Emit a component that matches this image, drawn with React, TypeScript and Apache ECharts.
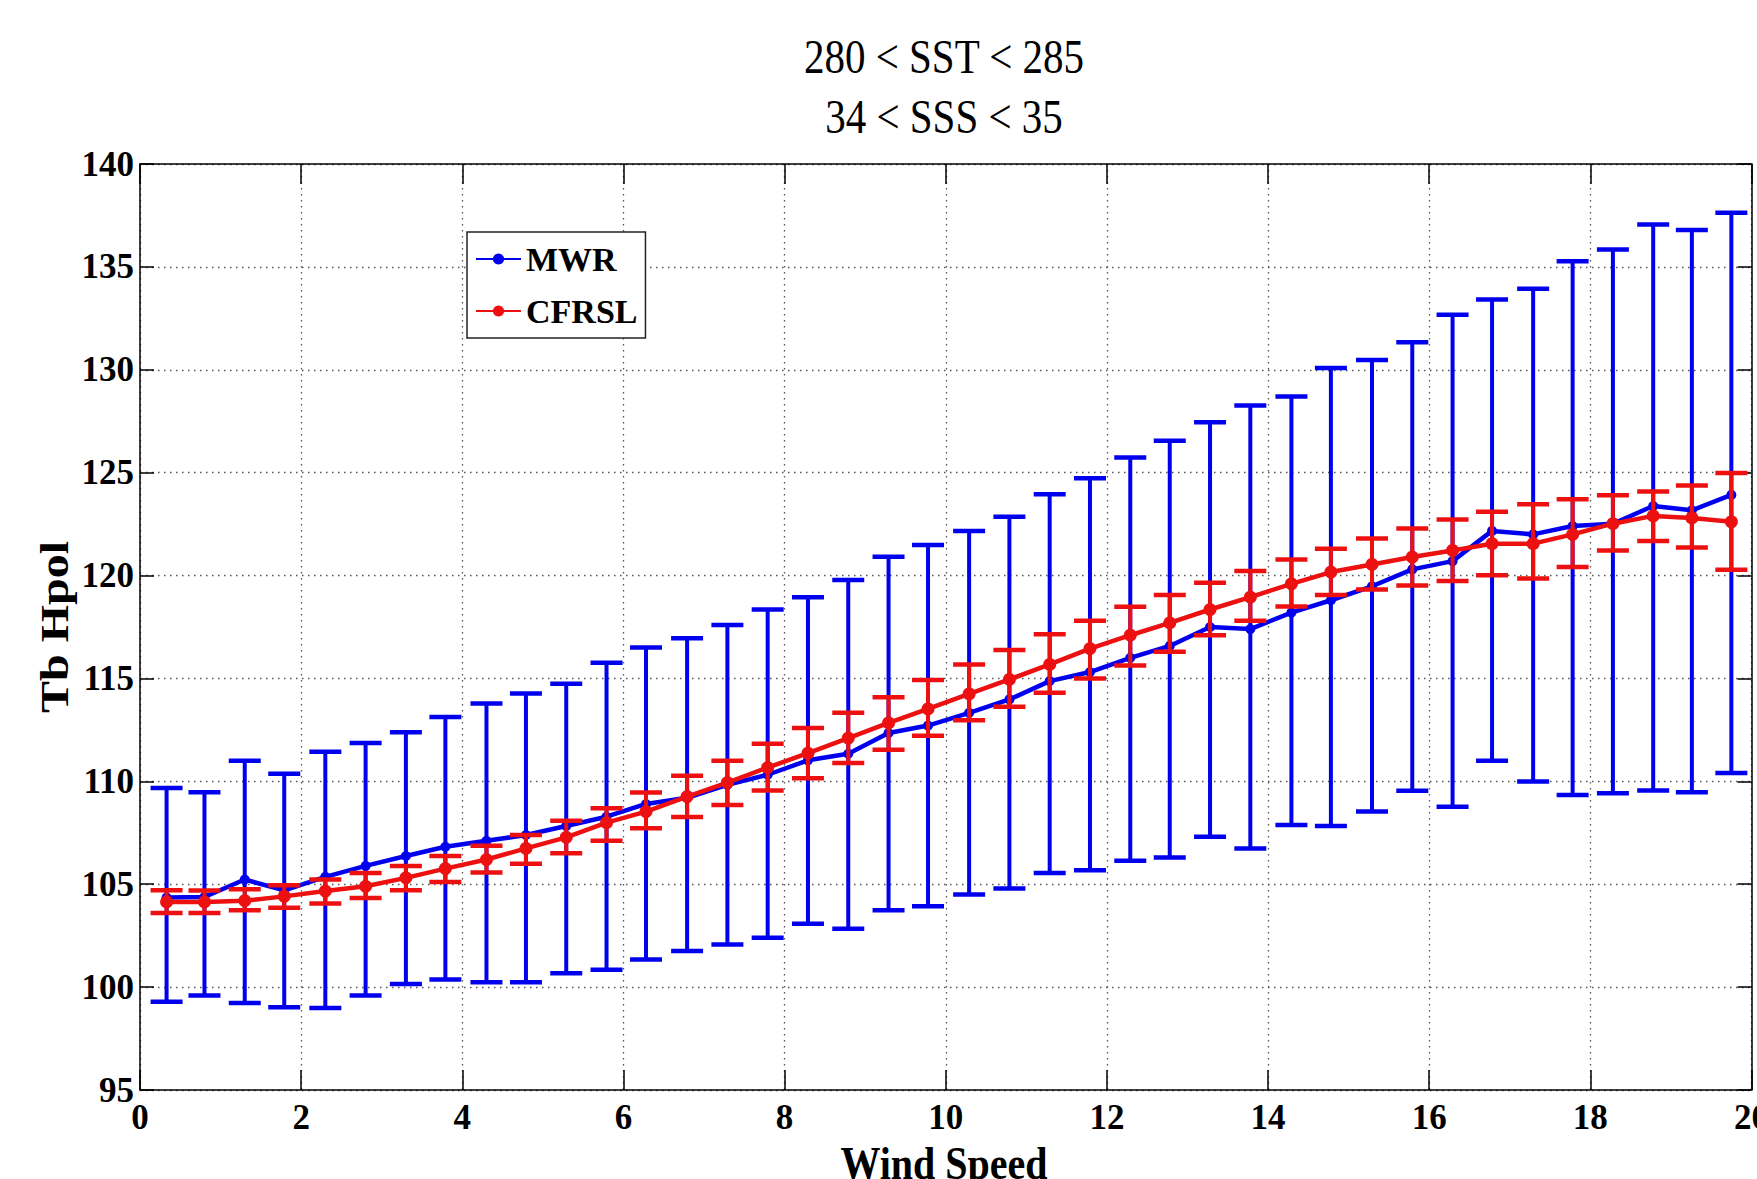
import React, { useEffect, useRef } from 'react';
import * as echarts from 'echarts';

const windSpeed = [0.33, 0.8, 1.3, 1.79, 2.3, 2.8, 3.3, 3.79, 4.3, 4.79, 5.29, 5.79, 6.28, 6.79, 7.29, 7.79, 8.29, 8.79, 9.29, 9.78, 10.29, 10.79, 11.29, 11.79, 12.29, 12.78, 13.28, 13.78, 14.29, 14.78, 15.29, 15.79, 16.29, 16.78, 17.29, 17.78, 18.28, 18.78, 19.26, 19.75];

const mwrMean = [104.35, 104.38, 105.23, 104.7, 105.36, 105.89, 106.37, 106.82, 107.11, 107.39, 107.83, 108.28, 108.9, 109.2, 109.83, 110.32, 111.02, 111.34, 112.35, 112.71, 113.33, 113.98, 114.87, 115.31, 116.0, 116.58, 117.5, 117.4, 118.2, 118.8, 119.48, 120.3, 120.7, 122.17, 122.0, 122.41, 122.52, 123.38, 123.17, 123.92];
const mwrUpper = [109.67, 109.47, 111.0, 110.37, 111.44, 111.86, 112.38, 113.13, 113.78, 114.27, 114.74, 115.76, 116.5, 116.95, 117.6, 118.35, 118.95, 119.78, 120.91, 121.48, 122.17, 122.86, 123.95, 124.73, 125.74, 126.55, 127.45, 128.26, 128.7, 130.09, 130.48, 131.34, 132.67, 133.42, 133.94, 135.28, 135.84, 137.06, 136.79, 137.63];
const mwrLower = [99.29, 99.59, 99.23, 99.02, 98.98, 99.59, 100.15, 100.37, 100.24, 100.24, 100.67, 100.84, 101.34, 101.75, 102.07, 102.4, 103.08, 102.84, 103.73, 103.93, 104.5, 104.79, 105.55, 105.68, 106.14, 106.3, 107.31, 106.74, 107.88, 107.83, 108.53, 109.54, 108.77, 111.0, 109.99, 109.34, 109.42, 109.55, 109.47, 110.4];

const cfrslMean = [104.14, 104.14, 104.2, 104.41, 104.67, 104.9, 105.31, 105.76, 106.2, 106.74, 107.28, 107.99, 108.53, 109.26, 109.94, 110.67, 111.37, 112.1, 112.84, 113.52, 114.25, 114.95, 115.68, 116.45, 117.1, 117.7, 118.35, 118.95, 119.6, 120.17, 120.54, 120.9, 121.22, 121.55, 121.55, 122.0, 122.52, 122.9, 122.8, 122.61];
const cfrslUpper = [104.71, 104.7, 104.76, 104.95, 105.23, 105.55, 105.89, 106.37, 106.87, 107.39, 108.09, 108.69, 109.46, 110.27, 111.0, 111.83, 112.59, 113.33, 114.09, 114.92, 115.68, 116.38, 117.15, 117.8, 118.48, 119.05, 119.65, 120.22, 120.78, 121.3, 121.8, 122.29, 122.73, 123.1, 123.46, 123.71, 123.9, 124.08, 124.38, 124.98];
const cfrslLower = [103.6, 103.6, 103.73, 103.86, 104.06, 104.33, 104.71, 105.11, 105.57, 106.0, 106.5, 107.11, 107.72, 108.27, 108.85, 109.55, 110.15, 110.89, 111.54, 112.22, 112.97, 113.62, 114.3, 115.0, 115.63, 116.3, 117.1, 117.8, 118.5, 119.05, 119.32, 119.52, 119.73, 120.02, 119.86, 120.41, 121.22, 121.68, 121.36, 120.28];

const titleLines = ['280 < SST < 285', '34 < SSS < 35'];
const seriesNames = ['MWR', 'CFRSL'];
const xName = 'Wind Speed';
const yName = 'Tb Hpol';

const BLUE = '#0000ee';
const RED = '#ec1010';
const FONT = '"Liberation Serif", "Times New Roman", serif';

function errorBarRender(color: string) {
  return (params: any, api: any) => {
    const x = api.value(0);
    const lo = api.value(1);
    const hi = api.value(2);
    const pHi = api.coord([x, hi]);
    const pLo = api.coord([x, lo]);
    const half = 16;
    return {
      type: 'group',
      children: [
        { type: 'line', shape: { x1: pHi[0], y1: pHi[1], x2: pLo[0], y2: pLo[1] }, style: { stroke: color, lineWidth: 4 } },
        { type: 'line', shape: { x1: pHi[0] - half, y1: pHi[1], x2: pHi[0] + half, y2: pHi[1] }, style: { stroke: color, lineWidth: 4.5 } },
        { type: 'line', shape: { x1: pLo[0] - half, y1: pLo[1], x2: pLo[0] + half, y2: pLo[1] }, style: { stroke: color, lineWidth: 4.5 } },
      ],
    };
  };
}

export default function App() {
  const ref = useRef<HTMLDivElement>(null);
  useEffect(() => {
    const chart = echarts.init(ref.current!, null, { renderer: 'svg', width: 1757, height: 1179 });
    const tickLabel = { fontFamily: FONT, fontWeight: 'bold', fontSize: 35, color: '#000' };
    const axisLine = { show: true, onZero: false, lineStyle: { color: '#000', width: 1.5 } };
    const grid = { show: true, lineStyle: { color: '#555', width: 1.3, type: [1.5, 4.5] } };
    const option: any = {
      animation: false,
      backgroundColor: '#fff',
      textStyle: { fontFamily: FONT },
      grid: { left: 140, top: 164, right: 5.5, bottom: 89, containLabel: false, outerBoundsMode: 'none' },
      xAxis: [
        {
          type: 'value', position: 'bottom', min: 0, max: 20, interval: 2,
          axisLine, axisTick: { show: true, inside: true, length: 20, lineStyle: { color: '#000', width: 1.5 } },
          axisLabel: { ...tickLabel, margin: 10, showMinLabel: true, showMaxLabel: true },
          splitLine: grid,
        },
        {
          type: 'value', position: 'top', min: 0, max: 20, interval: 2,
          axisLine, axisTick: { show: true, inside: true, length: 20, lineStyle: { color: '#000', width: 1.5 } },
          axisLabel: { show: false }, splitLine: { show: false },
        },
      ],
      yAxis: [
        {
          type: 'value', position: 'left', min: 95, max: 140, interval: 5,
          axisLine, axisTick: { show: true, inside: true, length: 14, lineStyle: { color: '#000', width: 1.5 } },
          axisLabel: { ...tickLabel, margin: 6, showMinLabel: true, showMaxLabel: true },
          splitLine: grid,
        },
        {
          type: 'value', position: 'right', min: 95, max: 140, interval: 5,
          axisLine, axisTick: { show: true, inside: true, length: 14, lineStyle: { color: '#000', width: 1.5 } },
          axisLabel: { show: false }, splitLine: { show: false },
        },
      ],
      legend: {
        data: seriesNames,
        orient: 'vertical',
        left: 467,
        top: 232,
        padding: [7, 8, 7, 8],
        itemGap: 12,
        itemWidth: 45,
        itemHeight: 14,
        borderColor: '#222',
        borderWidth: 1.5,
        backgroundColor: '#fff',
        textStyle: { fontFamily: FONT, fontWeight: 'bold', fontSize: 34, color: '#000', lineHeight: 40 },
      },
      graphic: [
        { type: 'text', x: 944, y: 57, scaleY: 1.2, style: { text: titleLines[0], fontFamily: FONT, fontSize: 41, fill: '#000', align: 'center', verticalAlign: 'middle' } },
        { type: 'text', x: 944, y: 117, scaleY: 1.2, style: { text: titleLines[1], fontFamily: FONT, fontSize: 41, fill: '#000', align: 'center', verticalAlign: 'middle' } },
        { type: 'text', x: 944, y: 1163, scaleY: 1.17, style: { text: xName, fontFamily: FONT, fontWeight: 'bold', fontSize: 40, fill: '#000', align: 'center', verticalAlign: 'middle' } },
        { type: 'text', x: 54, y: 627, rotation: Math.PI / 2, scaleX: 1.17, style: { text: yName, fontFamily: FONT, fontWeight: 'bold', fontSize: 41, fill: '#000', align: 'center', verticalAlign: 'middle' } },
      ],
      series: [
        {
          name: 'MWR error', type: 'custom', xAxisIndex: 0, yAxisIndex: 0,
          renderItem: errorBarRender(BLUE),
          encode: { x: 0, y: [1, 2] },
          data: windSpeed.map((x, i) => [x, mwrLower[i], mwrUpper[i]]),
          z: 2, silent: true,
        },
        {
          name: 'MWR', type: 'line', xAxisIndex: 0, yAxisIndex: 0,
          data: windSpeed.map((x, i) => [x, mwrMean[i]]),
          symbol: 'circle', symbolSize: 10, showSymbol: true,
          lineStyle: { color: BLUE, width: 4.5 }, itemStyle: { color: BLUE },
          z: 3,
        },
        {
          name: 'CFRSL error', type: 'custom', xAxisIndex: 0, yAxisIndex: 0,
          renderItem: errorBarRender(RED),
          encode: { x: 0, y: [1, 2] },
          data: windSpeed.map((x, i) => [x, cfrslLower[i], cfrslUpper[i]]),
          z: 4, silent: true,
        },
        {
          name: 'CFRSL', type: 'line', xAxisIndex: 0, yAxisIndex: 0,
          data: windSpeed.map((x, i) => [x, cfrslMean[i]]),
          symbol: 'circle', symbolSize: 13, showSymbol: true,
          lineStyle: { color: RED, width: 4.5 }, itemStyle: { color: RED },
          z: 5,
        },
      ],
    };
    chart.setOption(option);
    return () => chart.dispose();
  }, []);
  return <div ref={ref} style={{ position: 'fixed', left: 0, top: 0, width: 1757, height: 1179, background: '#fff' }} />;
}
